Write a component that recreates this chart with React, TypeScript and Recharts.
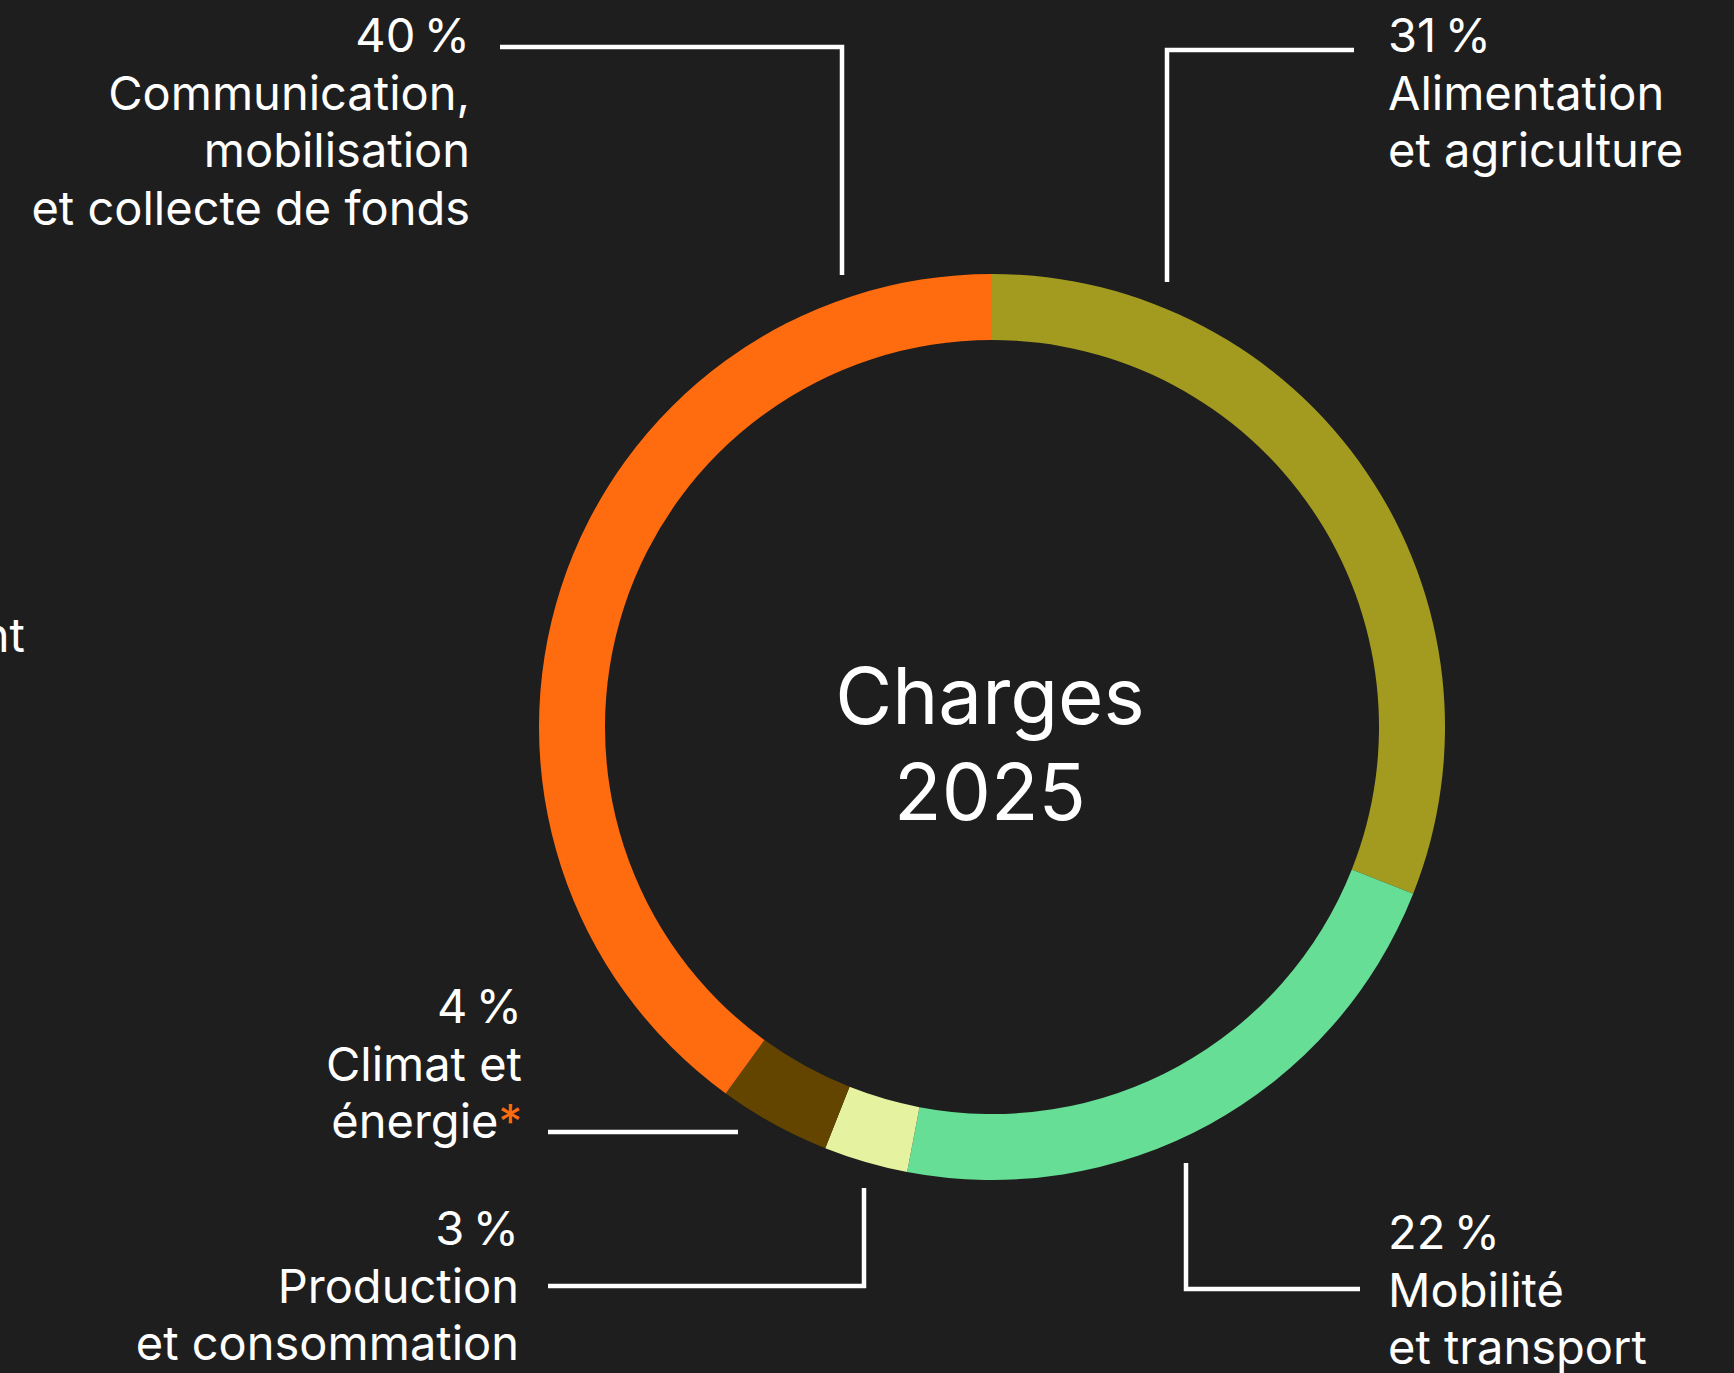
import React from 'react';
import { PieChart, Pie, Cell } from 'recharts';

const categories = [
  'Alimentation et agriculture',
  'Mobilité et transport',
  'Production et consommation',
  'Climat et énergie',
  'Communication, mobilisation et collecte de fonds',
];
const shares = [31, 22, 3, 4, 40];
const colors = ['#A39B1F', '#66DE96', '#E5F3A0', '#634500', '#FF6B0F'];
const labelLines = [
  ['Alimentation', 'et agriculture'],
  ['Mobilité', 'et transport'],
  ['Production', 'et consommation'],
  ['Climat et', 'énergie'],
  ['Communication,', 'mobilisation', 'et collecte de fonds'],
];
const footnoteMark = [false, false, false, true, false];

const chartData = categories.map((name, i) => ({ name, value: shares[i] }));

const BG = '#1E1E1E';
const FONT = 'Inter, "Noto Sans", sans-serif';
const FS = 47;
const LH = 57.5;

// hand placed label positions, like the original layout
const layout = [
  { anchor: 'start', x: 1388, y: 52, path: 'M1354,50 H1167 V282' },
  { anchor: 'start', x: 1388, y: 1249, path: 'M1186,1163 V1289 H1360' },
  { anchor: 'end', x: 519, y: 1245, path: 'M548,1286 H864 V1188' },
  { anchor: 'end', x: 522, y: 1023, path: 'M548,1132 H738' },
  { anchor: 'end', x: 470, y: 52, path: 'M500,47 H842 V275' },
];

function renderLabel(props: any) {
  const i = props.index;
  const l = layout[i];
  const lines = [`${shares[i]}\u202F%`, ...labelLines[i]];
  return (
    <g key={`lbl-${i}`}>
      <path d={l.path} fill="none" stroke="#fff" strokeWidth={4.5} strokeLinejoin="miter" />
      {lines.map((t, j) => (
        <text
          key={j}
          x={l.x}
          y={l.y + j * LH}
          textAnchor={l.anchor}
          fill="#fff"
          fontFamily={FONT}
          fontSize={FS}
        >
          {t}
          {footnoteMark[i] && j === lines.length - 1 ? <tspan fill="#FF6B0F">*</tspan> : null}
        </text>
      ))}
    </g>
  );
}

export default function App() {
  return (
    <div style={{ position: 'fixed', left: 0, top: 0, width: 1734, height: 1373, background: BG }}>
      <PieChart width={1734} height={1373} margin={{ top: 0, right: 0, bottom: 0, left: 0 }}>
        <Pie
          data={chartData}
          dataKey="value"
          nameKey="name"
          cx={992}
          cy={727}
          innerRadius={387}
          outerRadius={453}
          startAngle={90}
          endAngle={-270}
          stroke="none"
          label={renderLabel}
          labelLine={false}
          isAnimationActive={false}
        >
          {chartData.map((d, i) => (
            <Cell key={d.name} fill={colors[i]} />
          ))}
        </Pie>
        <text x={990} y={724} textAnchor="middle" fill="#fff" fontFamily={FONT} fontSize={78}>
          Charges
        </text>
        <text x={990} y={820} textAnchor="middle" fill="#fff" fontFamily={FONT} fontSize={78}>
          2025
        </text>
        <text x={25} y={652} textAnchor="end" fill="#fff" fontFamily={FONT} fontSize={FS}>
          nt
        </text>
      </PieChart>
    </div>
  );
}
